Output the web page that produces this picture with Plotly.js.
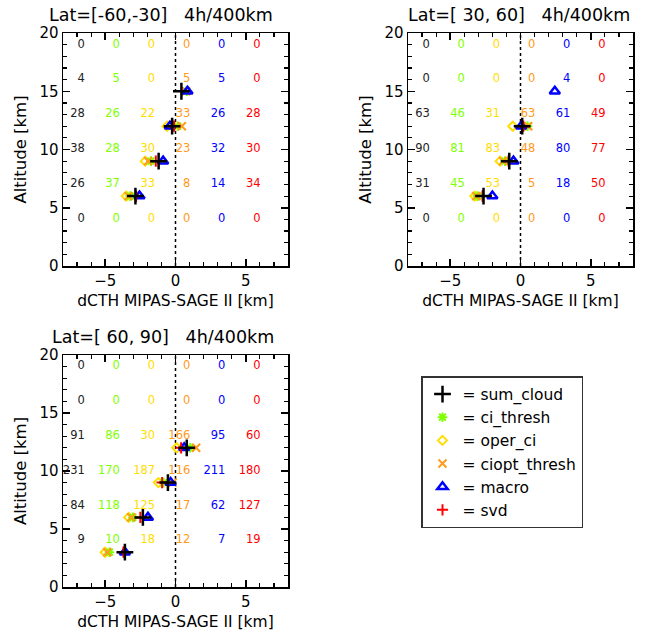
<!DOCTYPE html>
<html><head><meta charset="utf-8">
<script src="https://cdn.plot.ly/plotly-3.0.1.min.js"></script>
<style>html,body{margin:0;padding:0;background:#fff}#chart{width:649px;height:637px}</style>
</head><body><div id="chart"></div>
<script>
// ---- data ----
const seriesNames = ['sum_cloud','ci_thresh','oper_ci','ciopt_thresh','macro','svd'];
const altitudeBins = [3, 6, 9, 12, 15, 18];          // km
const panelTitles = ['Lat=[-60,-30]', 'Lat=[ 30, 60]', 'Lat=[ 60, 90]'];
const runLabel = '4h/400km';
const xTitle = 'dCTH MIPAS-SAGE II [km]';
const yTitle = 'Altitude [km]';

// mean dCTH per altitude bin (null = no cases)
const p1_sum_cloud    = [null, -2.85, -1.20, -0.24, 0.42, null];
const p1_ci_thresh    = [null, -3.22, -1.75,  0.15, 0.80, null];
const p1_oper_ci      = [null, -3.50, -2.15, -0.60, null, null];
const p1_ciopt_thresh = [null, -3.35, -1.95,  0.45, 0.75, null];
const p1_macro        = [null, -2.56, -0.88, -0.40, 0.85, null];
const p1_svd          = [null, -2.80, -1.40, -0.10, null, null];

const p2_sum_cloud    = [null, -2.63, -0.80,  0.12, null, null];
const p2_ci_thresh    = [null, -3.05, -1.10,  0.50, null, null];
const p2_oper_ci      = [null, -3.25, -1.45, -0.55, null, null];
const p2_ciopt_thresh = [null, -3.15, -1.25,  0.55, null, null];
const p2_macro        = [null, -2.00, -0.50,  0.05, 2.44, null];
const p2_svd          = [null, -2.70, -0.85,  0.20, null, null];

const p3_sum_cloud    = [-3.60, -2.32, -0.54, 0.80, null, null];
const p3_ci_thresh    = [-4.70, -3.03, -0.85, 1.05, null, null];
const p3_oper_ci      = [-5.00, -3.33, -1.22, 0.08, null, null];
const p3_ciopt_thresh = [-4.85, -3.15, -0.20, 1.47, null, null];
const p3_macro        = [-3.60, -1.96, -0.35, 0.62, null, null];
const p3_svd          = [-3.70, -2.50, -0.95, 0.40, null, null];

// number of cases per altitude bin
const p1_n_sum_cloud    = [0, 26, 38, 28, 4, 0];
const p1_n_ci_thresh    = [0, 37, 28, 26, 5, 0];
const p1_n_oper_ci      = [0, 33, 30, 22, 0, 0];
const p1_n_ciopt_thresh = [0, 8, 23, 33, 5, 0];
const p1_n_macro        = [0, 14, 32, 26, 5, 0];
const p1_n_svd          = [0, 34, 30, 28, 0, 0];

const p2_n_sum_cloud    = [0, 31, 90, 63, 0, 0];
const p2_n_ci_thresh    = [0, 45, 81, 46, 0, 0];
const p2_n_oper_ci      = [0, 53, 83, 31, 0, 0];
const p2_n_ciopt_thresh = [0, 5, 48, 63, 0, 0];
const p2_n_macro        = [0, 18, 80, 61, 4, 0];
const p2_n_svd          = [0, 50, 77, 49, 0, 0];

const p3_n_sum_cloud    = [9, 84, 231, 91, 0, 0];
const p3_n_ci_thresh    = [10, 118, 170, 86, 0, 0];
const p3_n_oper_ci      = [18, 125, 187, 30, 0, 0];
const p3_n_ciopt_thresh = [12, 17, 116, 166, 0, 0];
const p3_n_macro        = [7, 62, 211, 95, 0, 0];
const p3_n_svd          = [19, 127, 180, 60, 0, 0];

// ---- styles / positions ----
const seriesColors  = ['#000000', '#80ff00', '#ffdd00', '#ff9a1a', '#0000ff', '#ff0000'];
const seriesSymbols = ['cross-thin-open', 'asterisk-open', 'diamond-open', 'x-thin-open', 'triangle-up-open', 'cross-thin-open'];
const seriesSizes   = [12, 8, 7, 8, 9, 8];
const seriesWidths  = [2.5, 2, 2, 2, 2.5, 2];
const countColumnX  = [-6.45, -3.95, -1.45, 1.05, 3.55, 6.05];
const countRowOffset = 1;

const panelMeans = [
  [p1_sum_cloud, p1_ci_thresh, p1_oper_ci, p1_ciopt_thresh, p1_macro, p1_svd],
  [p2_sum_cloud, p2_ci_thresh, p2_oper_ci, p2_ciopt_thresh, p2_macro, p2_svd],
  [p3_sum_cloud, p3_ci_thresh, p3_oper_ci, p3_ciopt_thresh, p3_macro, p3_svd]
];
const panelCounts = [
  [p1_n_sum_cloud, p1_n_ci_thresh, p1_n_oper_ci, p1_n_ciopt_thresh, p1_n_macro, p1_n_svd],
  [p2_n_sum_cloud, p2_n_ci_thresh, p2_n_oper_ci, p2_n_ciopt_thresh, p2_n_macro, p2_n_svd],
  [p3_n_sum_cloud, p3_n_ci_thresh, p3_n_oper_ci, p3_n_ciopt_thresh, p3_n_macro, p3_n_svd]
];

const W = 649, H = 637;
const boxes = [ // pixel boxes [left, right, top, bottom]
  [63, 288, 33, 266],
  [408, 633, 33, 266],
  [63, 288, 355, 587]
];
const titleCenters = [[161, 15], [519, 15], [163, 337]];

const traces = [];
const drawOrder = [2, 1, 3, 4, 5, 0];
boxes.forEach((b, p) => {
  const sfx = p === 0 ? '' : String(p + 1);
  seriesNames.forEach((name, s) => {
    traces.push({
      type: 'scatter', mode: 'text', xaxis: 'x' + sfx, yaxis: 'y' + sfx,
      x: altitudeBins.map(() => countColumnX[s]),
      y: altitudeBins.map(a => a + countRowOffset),
      text: panelCounts[p][s].map(String),
      textposition: 'middle left',
      textfont: {size: 11.5, color: s === 0 ? '#222' : seriesColors[s], family: 'DejaVu Sans'},
      showlegend: false, hoverinfo: 'skip', cliponaxis: false
    });
  });
  drawOrder.forEach(s => {
    traces.push({
      type: 'scatter', mode: 'markers', xaxis: 'x' + sfx, yaxis: 'y' + sfx,
      x: panelMeans[p][s], y: altitudeBins,
      name: '= ' + seriesNames[s],
      legendrank: s + 1,
      showlegend: p === 0,
      marker: {symbol: seriesSymbols[s], size: seriesSizes[s], color: seriesColors[s],
               line: {width: seriesWidths[s], color: seriesColors[s]}},
      cliponaxis: false
    });
  });
});

const layout = {
  width: W, height: H,
  margin: {l: 0, r: 0, t: 0, b: 0},
  paper_bgcolor: '#fff', plot_bgcolor: '#fff',
  font: {family: 'DejaVu Sans', color: '#000', size: 15},
  showlegend: true,
  legend: {
    x: 421 / W, y: 1 - 376 / H, xanchor: 'left', yanchor: 'top',
    bordercolor: '#333', borderwidth: 1.5, bgcolor: '#fff',
    font: {size: 15.5, family: 'DejaVu Sans'}, itemwidth: 30, tracegroupgap: 0,
    traceorder: 'normal'
  },
  annotations: [], shapes: []
};

boxes.forEach((b, p) => {
  const sfx = p === 0 ? '' : String(p + 1);
  const common = {
    ticks: 'inside', ticklen: 7, tickwidth: 1.5, tickcolor: '#000',
    showline: true, linewidth: 1.5, linecolor: '#000', mirror: 'ticks',
    showgrid: false, zeroline: false, automargin: false, fixedrange: true,
    tickfont: {size: 15}, tickmode: 'linear', tick0: 0, dtick: 5,
    minor: {dtick: 1, ticks: 'inside', ticklen: 4, tickwidth: 1.2, tickcolor: '#000', showgrid: false}
  };
  layout['xaxis' + sfx] = Object.assign({}, common, {
    domain: [b[0] / W, b[1] / W], anchor: 'y' + sfx, range: [-8, 8],
    title: {text: xTitle, font: {size: 15.5}, standoff: 6}
  });
  layout['yaxis' + sfx] = Object.assign({}, common, {
    domain: [1 - b[3] / H, 1 - b[2] / H], anchor: 'x' + sfx, range: [0, 20],
    title: {text: yTitle, font: {size: 16.5}, standoff: 8}
  });
  layout.shapes.push({type: 'line', xref: 'x' + sfx, yref: 'y' + sfx + ' domain',
    x0: 0, x1: 0, y0: 0, y1: 1, line: {color: '#000', width: 1.5, dash: 'dot'}, layer: 'below'});
  layout.annotations.push({
    xref: 'paper', yref: 'paper', x: titleCenters[p][0] / W, y: 1 - titleCenters[p][1] / H,
    xanchor: 'center', yanchor: 'middle', showarrow: false,
    text: panelTitles[p] + '\u00a0\u00a0\u00a0' + runLabel, font: {size: 17.5}
  });
});

Plotly.newPlot('chart', traces, layout, {staticPlot: true, displayModeBar: false});
</script>
</body></html>
